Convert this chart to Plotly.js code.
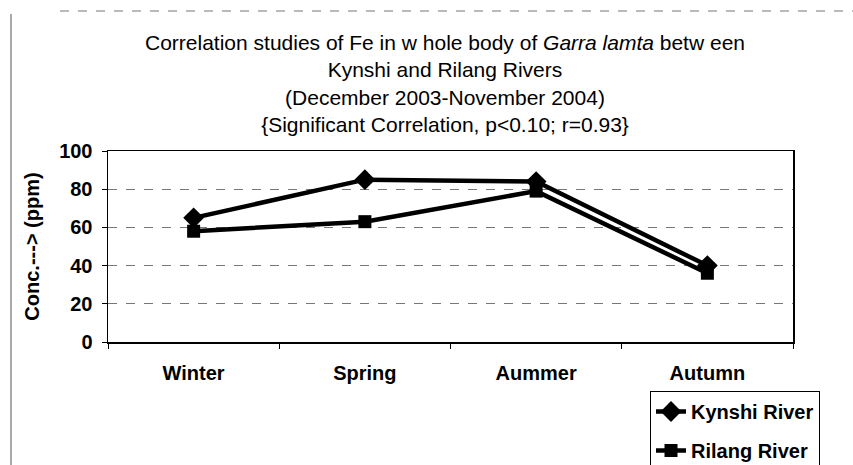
<!DOCTYPE html>
<html>
<head>
<meta charset="utf-8">
<script src="https://cdn.plot.ly/plotly-3.0.1.min.js"></script>
<style>html,body{margin:0;padding:0;background:#fff;}#chart{width:853px;height:465px;}</style>
</head>
<body>
<div id="chart"></div>
<script>
const seasons = ['Winter', 'Spring', 'Aummer', 'Autumn'];
const kynshiRiver = [65, 85, 84, 40];
const rilangRiver = [58, 63, 79, 36];
const yTicks = [0, 20, 40, 60, 80, 100];

const FONT = 'Liberation Sans, Arial, sans-serif';
const L = 108, R = 793, T = 151, B = 342;
const W = 853, H = 465;
const px = v => (v - L) / (R - L);
const py = v => (B - v) / (B - T);

const traces = [
  {
    x: seasons, y: kynshiRiver, name: '<b>Kynshi River</b>', type: 'scatter', mode: 'lines+markers',
    legendgroup: 'k',
    line: {color: '#000', width: 4.5},
    marker: {symbol: 'diamond', size: 16, color: '#000'}
  },
  {
    x: seasons, y: rilangRiver, name: '<b>Rilang River</b>', type: 'scatter', mode: 'lines+markers',
    legendgroup: 'r',
    line: {color: '#000', width: 4.5},
    marker: {symbol: 'square', size: 13, color: '#000'}
  }
];

const layout = {
  width: W, height: H,
  margin: {l: L, r: W - R, t: T, b: H - B, autoexpand: false},
  paper_bgcolor: '#fff', plot_bgcolor: '#fff',
  font: {family: FONT, color: '#000', size: 20},
  title: {
    text: 'Correlation studies of Fe in w hole body of <i>Garra lamta</i> betw een<br>Kynshi and Rilang Rivers<br>(December 2003-November 2004)<br>{Significant Correlation, p&lt;0.10; r=0.93}',
    font: {family: FONT, size: 21, color: '#000'},
    xref: 'container', x: 445 / W, xanchor: 'center',
    yref: 'container', y: 1 - 50 / H, yanchor: 'top'
  },
  showlegend: true,
  legend: {
    x: px(650), y: py(391), xanchor: 'left', yanchor: 'top',
    bordercolor: '#000', borderwidth: 1, bgcolor: '#fff',
    font: {family: FONT, size: 20, color: '#000'},
    tracegroupgap: 10, traceorder: 'grouped'
  },
  xaxis: {
    type: 'category', range: [-0.5, 3.5],
    showline: true, linecolor: '#000', linewidth: 1.5, mirror: true,
    ticks: 'outside', tickson: 'boundaries', ticklen: 5, tickcolor: '#000',
    showgrid: false, zeroline: false,
    ticklabelstandoff: 12,
    tickfont: {family: FONT, size: 20, color: '#000', weight: 'bold'}
  },
  yaxis: {
    range: [0, 100], tickvals: yTicks,
    showline: true, linecolor: '#000', linewidth: 1.5, mirror: true,
    ticks: 'outside', ticklen: 5, tickcolor: '#000',
    ticklabelstandoff: 5,
    showgrid: true, gridcolor: '#777', gridwidth: 1, griddash: 'dash',
    zeroline: false,
    tickfont: {family: FONT, size: 20, color: '#000', weight: 'bold'},
    title: {text: '<b>Conc.---> (ppm)</b>', font: {family: FONT, size: 20, color: '#000'}, standoff: 14}
  },
  shapes: [
    {type: 'line', xref: 'paper', yref: 'paper', x0: px(11), x1: px(11), y0: py(14), y1: py(465),
     line: {color: '#555', width: 1}},
    {type: 'line', xref: 'paper', yref: 'paper', x0: px(60), x1: px(853), y0: py(11), y1: py(11),
     line: {color: '#777', width: 1, dash: 'dash'}}
  ]
};

Plotly.newPlot('chart', traces, layout, {displayModeBar: false, staticPlot: true});
</script>
</body>
</html>
